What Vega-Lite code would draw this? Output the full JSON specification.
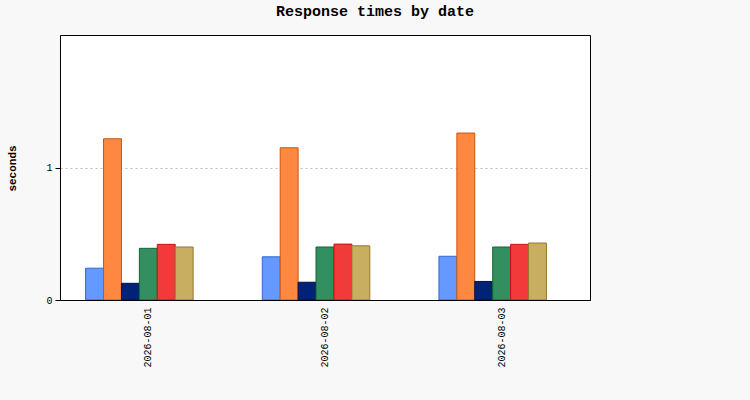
{
  "$schema": "https://vega.github.io/schema/vega-lite/v6.json",
  "width": 530,
  "height": 265,
  "autosize": {"type": "none"},
  "padding": {"left": 60, "top": 35, "right": 160, "bottom": 100},
  "background": "#f8f8f8",
  "title": {
    "text": "Response times by date",
    "font": "Liberation Mono",
    "fontSize": 15,
    "fontWeight": "bold",
    "color": "#000",
    "anchor": "middle",
    "dx": 50,
    "offset": 16
  },
  "data": {
    "values": [
      {"date": "2026-08-01", "series": "A", "seconds": 0.24},
      {"date": "2026-08-01", "series": "B", "seconds": 1.217},
      {"date": "2026-08-01", "series": "C", "seconds": 0.126},
      {"date": "2026-08-01", "series": "D", "seconds": 0.39},
      {"date": "2026-08-01", "series": "E", "seconds": 0.42},
      {"date": "2026-08-01", "series": "F", "seconds": 0.40},
      {"date": "2026-08-02", "series": "A", "seconds": 0.326},
      {"date": "2026-08-02", "series": "B", "seconds": 1.149},
      {"date": "2026-08-02", "series": "C", "seconds": 0.134},
      {"date": "2026-08-02", "series": "D", "seconds": 0.40},
      {"date": "2026-08-02", "series": "E", "seconds": 0.422},
      {"date": "2026-08-02", "series": "F", "seconds": 0.409},
      {"date": "2026-08-03", "series": "A", "seconds": 0.33},
      {"date": "2026-08-03", "series": "B", "seconds": 1.26},
      {"date": "2026-08-03", "series": "C", "seconds": 0.14},
      {"date": "2026-08-03", "series": "D", "seconds": 0.40},
      {"date": "2026-08-03", "series": "E", "seconds": 0.42},
      {"date": "2026-08-03", "series": "F", "seconds": 0.43}
    ]
  },
  "mark": {"type": "bar", "strokeWidth": 1},
  "encoding": {
    "x": {
      "field": "date",
      "type": "nominal",
      "title": null,
      "scale": {"paddingInner": 0.29, "paddingOuter": 0.145},
      "axis": {
        "labelAngle": 270,
        "labelAlign": "right",
        "labelBaseline": "middle",
        "labelPadding": 7,
        "ticks": false,
        "domain": true,
        "domainColor": "#000",
        "domainWidth": 1,
        "zindex": 1
      }
    },
    "xOffset": {
      "field": "series",
      "scale": {"domain": ["A", "B", "C", "D", "E", "F", "G"], "paddingInner": 0, "paddingOuter": 0}
    },
    "y": {
      "field": "seconds",
      "type": "quantitative",
      "title": "seconds",
      "scale": {"domain": [0, 2], "nice": false},
      "axis": {
        "values": [0, 1],
        "grid": true,
        "gridColor": "#bbbbbb",
        "gridDash": [2, 3],
        "tickColor": "#000",
        "tickSize": 5,
        "labelPadding": 3,
        "domain": true,
        "domainColor": "#000",
        "titleFontWeight": "bold",
        "titleFontSize": 11,
        "titleX": -48,
        "titleY": 133,
        "titleAngle": 270,
        "titleAlign": "center",
        "titleBaseline": "middle"
      }
    },
    "color": {
      "field": "series",
      "legend": null,
      "scale": {
        "domain": ["A", "B", "C", "D", "E", "F"],
        "range": ["#6699ff", "#ff8840", "#002277", "#338f5f", "#f23a3a", "#c8ae60"]
      }
    },
    "stroke": {
      "field": "series",
      "legend": null,
      "scale": {
        "domain": ["A", "B", "C", "D", "E", "F"],
        "range": ["#3366cc", "#cc5511", "#001144", "#116633", "#cc1111", "#997733"]
      }
    }
  },
  "config": {
    "font": "Liberation Mono",
    "view": {"stroke": "#000", "strokeWidth": 1, "fill": "#ffffff"},
    "axis": {
      "labelFont": "Liberation Mono",
      "labelFontSize": 10,
      "labelColor": "#000",
      "titleFont": "Liberation Mono",
      "titleColor": "#000"
    },
    "bar": {"fillOpacity": 1}
  }
}
